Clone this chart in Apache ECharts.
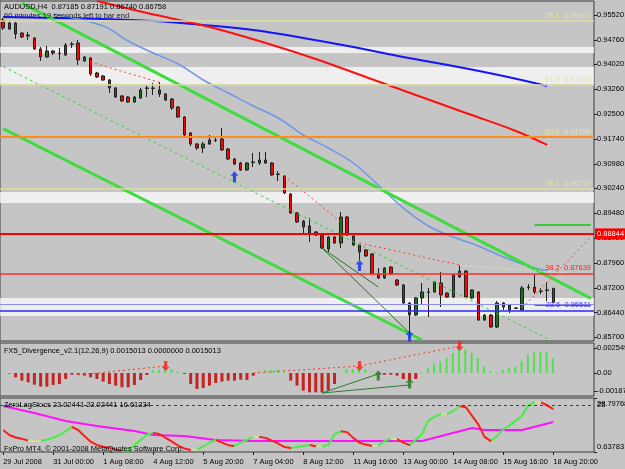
<!DOCTYPE html>
<html>
<head>
<meta charset="utf-8">
<script src="https://cdn.jsdelivr.net/npm/echarts@6/dist/echarts.min.js"></script>
<style>
  html, body { margin: 0; padding: 0; background: #c5c5c5; }
  #chart { width: 625px; height: 469px; }
</style>
</head>
<body>
<div id="chart"></div>
<script>
// ---- data ----
const barCount = 95; // 89 bars + right shift
const tickLabels = ['29 Jul 2008', '31 Jul 00:00', '1 Aug 08:00', '4 Aug 12:00', '5 Aug 20:00', '7 Aug 04:00',
  '8 Aug 12:00', '11 Aug 16:00', '13 Aug 00:00', '14 Aug 08:00', '15 Aug 16:00', '18 Aug 20:00'];
const priceTicks = [0.9552, 0.9476, 0.9402, 0.9326, 0.9250, 0.9174, 0.9098, 0.9024, 0.8948, 0.8872,
  0.8796, 0.8720, 0.8644, 0.8570];
const macdTicks = [0.002549, 0, -0.00187];
const stochTicks = [28.79768, 0.63783];
const stochLevel = 25;

// [open, close, low, high]
const candles = [
  [0.95368, 0.95124, 0.95063, 0.95428], [0.95093, 0.95276, 0.95063, 0.95337], [0.95276, 0.94941, 0.94788, 0.95307],
  [0.94971, 0.94849, 0.94819, 0.95002], [0.94910, 0.94880, 0.94758, 0.95002], [0.94819, 0.94483, 0.94453, 0.94849],
  [0.94483, 0.94239, 0.94117, 0.94544], [0.94239, 0.94422, 0.94209, 0.94575], [0.94422, 0.94361, 0.94300, 0.94453],
  [0.94361, 0.94345, 0.94148, 0.94514], [0.94300, 0.94605, 0.94270, 0.94666], [0.94636, 0.94625, 0.94514, 0.94697],
  [0.94666, 0.94148, 0.93995, 0.94758], [0.94117, 0.94239, 0.94087, 0.94270], [0.94209, 0.93721, 0.93660, 0.94239],
  [0.93751, 0.93629, 0.93599, 0.93782], [0.93660, 0.93538, 0.93507, 0.93690], [0.93538, 0.93294, 0.93141, 0.93568],
  [0.93294, 0.93019, 0.92989, 0.93324], [0.93050, 0.92897, 0.92867, 0.93080], [0.93019, 0.92867, 0.92836, 0.93050],
  [0.92867, 0.93019, 0.92836, 0.93050], [0.92989, 0.93233, 0.92958, 0.93294], [0.93294, 0.93280, 0.93019, 0.93385],
  [0.93294, 0.93280, 0.93080, 0.93446], [0.93233, 0.93111, 0.93019, 0.93477], [0.93111, 0.92928, 0.92897, 0.93141],
  [0.92958, 0.92684, 0.92623, 0.92989], [0.92714, 0.92409, 0.92379, 0.92745], [0.92409, 0.91860, 0.91830, 0.92440],
  [0.91921, 0.91586, 0.91525, 0.91952], [0.91586, 0.91464, 0.91403, 0.91616], [0.91464, 0.91586, 0.91311, 0.91647],
  [0.91586, 0.91708, 0.91555, 0.91860], [0.91708, 0.91695, 0.91647, 0.91769], [0.91738, 0.91403, 0.91372, 0.92074],
  [0.91433, 0.91128, 0.91098, 0.91464], [0.91128, 0.90976, 0.90945, 0.91159], [0.91006, 0.90793, 0.90762, 0.91037],
  [0.90793, 0.91006, 0.90762, 0.91037], [0.91037, 0.91020, 0.90884, 0.91311], [0.91006, 0.91098, 0.90945, 0.91342],
  [0.91098, 0.91006, 0.90976, 0.91342], [0.91006, 0.90640, 0.90610, 0.91037], [0.90671, 0.90655, 0.90457, 0.90762],
  [0.90610, 0.90091, 0.90061, 0.90640], [0.90061, 0.89481, 0.89451, 0.90091], [0.89481, 0.89207, 0.89176, 0.89512],
  [0.89237, 0.89054, 0.88871, 0.89268], [0.89085, 0.88871, 0.88597, 0.89329], [0.88902, 0.88810, 0.88780, 0.88932],
  [0.88810, 0.88414, 0.88383, 0.88841], [0.88383, 0.88749, 0.88292, 0.88780], [0.88749, 0.88566, 0.88536, 0.88780],
  [0.88566, 0.89359, 0.88414, 0.89512], [0.89359, 0.88810, 0.88780, 0.89390], [0.88780, 0.88505, 0.88475, 0.88810],
  [0.88505, 0.88292, 0.88048, 0.88536], [0.88353, 0.88170, 0.88140, 0.88383], [0.88231, 0.87621, 0.87590, 0.88261],
  [0.87621, 0.87499, 0.87468, 0.87804], [0.87499, 0.87804, 0.87468, 0.87834], [0.87834, 0.87621, 0.87590, 0.87865],
  [0.87438, 0.87285, 0.87255, 0.87468], [0.87285, 0.86736, 0.86706, 0.87316], [0.86736, 0.86370, 0.85699, 0.86766],
  [0.86370, 0.86889, 0.86340, 0.86919], [0.86889, 0.87072, 0.86675, 0.87346], [0.87072, 0.87060, 0.86309, 0.87194],
  [0.87072, 0.87377, 0.87041, 0.87407], [0.87346, 0.86980, 0.86614, 0.87682], [0.87041, 0.86919, 0.86889, 0.87072],
  [0.86919, 0.87590, 0.86889, 0.87621], [0.87529, 0.87712, 0.87499, 0.87895], [0.87712, 0.86919, 0.86889, 0.87743],
  [0.86889, 0.87133, 0.86858, 0.87163], [0.87072, 0.86218, 0.86187, 0.87102], [0.86218, 0.86370, 0.86187, 0.86401],
  [0.86370, 0.86004, 0.85973, 0.86401], [0.86004, 0.86736, 0.85973, 0.86797], [0.86736, 0.86614, 0.86523, 0.86766],
  [0.86675, 0.86523, 0.86431, 0.86706], [0.86584, 0.86570, 0.86553, 0.86614], [0.86523, 0.87194, 0.86492, 0.87255],
  [0.87224, 0.87210, 0.87133, 0.87316], [0.87224, 0.87072, 0.87011, 0.87590], [0.87102, 0.87090, 0.87011, 0.87194],
  [0.87133, 0.87120, 0.86797, 0.87377], [0.87185, 0.86758, 0.86740, 0.87191]
];

// moving averages, [bar, price]
const maBlue = [[0, 0.95459], [16, 0.95398], [24, 0.95337], [32, 0.95215], [40, 0.95063], [48, 0.94819],
  [56, 0.94544], [64, 0.94239], [72, 0.93965], [80, 0.93660], [87, 0.93355]];
const maRed = [[15, 0.95947], [23, 0.95581], [33, 0.95154], [42, 0.94666], [50, 0.94178], [58, 0.93629],
  [66, 0.93080], [74, 0.92532], [82, 0.91983], [87, 0.91556]];
const maLightBlue = [[8, 0.95551], [16, 0.95185], [20, 0.94727], [24, 0.94361], [28, 0.94026], [32, 0.93538],
  [36, 0.93141], [40, 0.92745], [44, 0.92379], [48, 0.91860], [52, 0.91464], [56, 0.91006], [60, 0.90335],
  [64, 0.89634], [68, 0.89085], [72, 0.88749], [76, 0.88475], [80, 0.88140], [84, 0.87865], [87, 0.87712]];

// trend lines, [bar, price]
const trendUpper = [[3, 0.95880], [94, 0.86877]];
const trendLower = [[0, 0.92055], [67, 0.85608]];
const trendMid = [[0, 0.93946], [87, 0.85654]];
const trendPale = [[73, 0.87880], [94, 0.87602]];
const redDashes = [
  [[14, 0.94087], [25, 0.93462]],
  [[45, 0.90610], [54, 0.89207]],
  [[57, 0.88566], [73, 0.87895]],
  [[83, 0.86584], [94, 0.88749]]
];
const divLines = [
  [[51, 0.88414], [60, 0.87224]],
  [[51, 0.88414], [65, 0.85821]]
];
const blueArrows = [[37, 0.90587], [57, 0.87880], [65, 0.85730]];

// horizontal objects
const fiboUpperPct = ['76.4', '61.8', '50.0', '38.2'];
const fiboUpperPrice = [0.95342, 0.93383, 0.91799, 0.90215];
const fiboLowerPct = ['38.2', '23.6'];
const fiboLowerPrice = [0.87639, 0.86511];
const resistance = 0.88844;
const paleBlueLevel = 0.86706;
const bands = [[0.94361, 0.94544], [0.93416, 0.93934], [0.89786, 0.90121], [0.86340, 0.86889]];
const greenShort = [[85, 0.89115], [94, 0.89115]];
const redShort = [[85, 0.86675], [94, 0.86675]];
const lastClose = 0.86758;

// FX5 divergence histogram
const macdHist = [
  0.00005, -0.00005, -0.00044, -0.00078, -0.00095, -0.00119, -0.00139, -0.00139, -0.00122, -0.00112,
  -0.00061, -0.00017, -0.00017, -0.00027, -0.00044, -0.00061, -0.00088, -0.00112, -0.00129, -0.00146,
  -0.00146, -0.00122, -0.00071, -0.00020, 0.00027, 0.00034, 0.00041, 0.00041, 0.00017, -0.00010,
  -0.00112, -0.00163, -0.00153, -0.00129, -0.00102, -0.00088, -0.00078, -0.00078, -0.00068, -0.00071,
  -0.00027, 0.00005, 0.00034, 0.00034, 0.00034, 0.00017, -0.00078, -0.00129, -0.00180, -0.00197,
  -0.00197, -0.00197, -0.00180, -0.00112, 0.00005, 0.00041, 0.00041, 0.00051, 0.00041, 0.00005,
  -0.00005, -0.00017, -0.00017, -0.00027, -0.00061, -0.00078, -0.00061, 0.00005, 0.00051, 0.00095,
  0.00119, 0.00153, 0.00204, 0.00255, 0.00238, 0.00204, 0.00153, 0.00068, 0.00017, 0.00007,
  0.00034, 0.00051, 0.00068, 0.00119, 0.00187, 0.00221, 0.00221, 0.00221, 0.00150
];
const macdRedDashes = [
  [[12, -0.00020], [26, 0.00071]],
  [[40, 0.0], [57, 0.00071]],
  [[57, 0.00071], [73, 0.00275]]
];
const macdGreenLines = [
  [[51, -0.00204], [60, -0.00010]],
  [[51, -0.00204], [65, -0.00122]]
];
const macdDownArrows = [[26, 0.00071], [57, 0.00071], [73, 0.00275]];
const macdUpArrows = [[60, -0.00025], [65, -0.00107]];

// ZeroLagStocs
const stochMain = [
  12.1, 9.5, 8.2, 7.5, 6.6, 6.4, 6.4, 7.0, 8.0, 9.5,
  11.5, 13.7, 12.1, 9.0, 6.0, 4.3, 3.4, 2.8, 2.0, 1.2,
  1.6, 4.0, 7.0, 9.6, 10.6, 10.0, 8.0, 6.0, 4.0, 2.5,
  1.7, 2.0, 3.5, 5.5, 6.9, 5.5, 4.2, 3.8, 5.5, 7.0,
  8.5, 8.5, 8.0, 6.6, 5.0, 3.2, 2.7, 3.2, 3.8, 4.3,
  3.6, 3.5, 4.3, 10.0, 11.4, 11.0, 8.0, 5.5, 4.5, 3.8,
  4.0, 6.3, 7.6, 7.3, 5.5, 4.2, 7.0, 10.0, 17.0, 19.0,
  20.5, 20.5, 22.0, 24.5, 24.0, 19.5, 15.0, 8.5, 6.3, 9.0,
  12.5, 14.5, 17.0, 19.5, 25.0, 26.7, 26.5, 25.0, 23.0
];
const stochSignal = [[0, 24.6], [5, 21.0], [10, 16.8], [15, 14.2], [21, 11.6], [24, 9.5], [29, 9.0], [34, 6.9],
  [40, 6.4], [50, 6.4], [67, 6.4], [75, 13.2], [77, 12.1], [83, 12.1], [88, 16.3]];

// ---- chart ----
const FONT = '"Liberation Sans", Arial, sans-serif';
const FS = 7.5;
const cats = Array.from({length: barCount}, (_, i) => i);
const upArrow = 'path://M5,0 L10,5 L7,5 L7,12 L3,12 L3,5 L0,5 Z';
const downArrow = 'path://M3,0 L7,0 L7,7 L10,7 L5,12 L0,7 L3,7 Z';

function hiddenX(gi) {
  return {type: 'category', gridIndex: gi, data: cats, boundaryGap: true,
    axisLine: {show: false}, axisTick: {show: false}, axisLabel: {show: false}, splitLine: {show: false}};
}
function rightY(gi, min, max, ticks, fmt) {
  return {
    type: 'value', gridIndex: gi, position: 'right', min: min, max: max,
    splitLine: {show: false}, axisLine: {show: false},
    axisTick: {show: true, length: 3, customValues: ticks, lineStyle: {color: '#202020'}},
    axisLabel: {customValues: ticks, formatter: fmt, color: '#000', fontSize: FS, fontFamily: FONT, margin: 3,
      showMinLabel: true, showMaxLabel: true, hideOverlap: false}
  };
}
function seg(data, color, width, type, xi, yi) {
  return {type: 'line', data: data, xAxisIndex: xi || 0, yAxisIndex: yi || 0, symbol: 'none', silent: true,
    lineStyle: {color: color, width: width, type: type || 'solid'}, z: 4};
}

const fiboLabel = (txt, color) => ({show: true, position: 'insideEndTop', formatter: txt, color: color,
  fontSize: FS, fontFamily: FONT, distance: [3, 1]});

const levelLines = [];
fiboUpperPrice.forEach((p, i) => {
  const orange = fiboUpperPct[i] === '50.0';
  levelLines.push({yAxis: p,
    lineStyle: {color: orange ? '#ff8a1e' : '#dcdc9c', width: orange ? 2 : 1.5, type: 'solid'},
    label: fiboLabel(fiboUpperPct[i] + '  ' + p.toFixed(5), '#e4e49a')});
});
levelLines.push({yAxis: fiboLowerPrice[0], lineStyle: {color: '#ff2a2a', width: 1.5, type: 'solid'},
  label: fiboLabel(fiboLowerPct[0] + '  ' + fiboLowerPrice[0].toFixed(5), '#ff2020')});
levelLines.push({yAxis: fiboLowerPrice[1], lineStyle: {color: '#2a2aff', width: 1.5, type: 'solid'},
  label: fiboLabel(fiboLowerPct[1] + '  ' + fiboLowerPrice[1].toFixed(5), '#3a3aff')});
levelLines.push({yAxis: paleBlueLevel, lineStyle: {color: '#8f8fe8', width: 1, type: 'solid'}, label: {show: false}});
levelLines.push({yAxis: resistance, lineStyle: {color: '#ff0000', width: 2, type: 'solid'},
  label: {show: true, position: 'end', formatter: resistance.toFixed(5), color: '#fff', backgroundColor: '#ff0000',
    fontSize: FS, fontFamily: FONT, padding: [2, 2, 1, 2], distance: 1}});
levelLines.push({yAxis: lastClose, lineStyle: {opacity: 0},
  label: {show: true, position: 'end', formatter: lastClose.toFixed(5), color: '#e8e8e8', backgroundColor: '#202020',
    fontSize: FS, fontFamily: FONT, padding: [2, 2, 1, 2], distance: 1}});

const series = [];
series.push({type: 'line', name: 'objects', data: [], xAxisIndex: 0, yAxisIndex: 0, z: 1, silent: true,
  markArea: {silent: true, itemStyle: {color: 'rgba(255,255,255,0.72)'},
    data: bands.map(b => [{yAxis: b[0]}, {yAxis: b[1]}])},
  markLine: {silent: true, precision: 6, symbol: ['none', 'none'], animation: false, data: levelLines}
});
series.push({type: 'candlestick', data: candles, xAxisIndex: 0, yAxisIndex: 0, barWidth: 3, z: 3,
  itemStyle: {color: '#1f6f1f', color0: '#ff0000', borderColor: '#202020', borderColor0: '#202020', borderWidth: 1}});
series.push(Object.assign(seg(maBlue, '#1414ff', 2), {smooth: 0.4}));
series.push(Object.assign(seg(maRed, '#ff1010', 2), {smooth: 0.4}));
series.push(Object.assign(seg(maLightBlue, '#6c98e6', 1.5), {smooth: 0.4}));
series.push(seg(trendUpper, '#3fdc3f', 3));
series.push(seg(trendLower, '#3fdc3f', 3));
series.push(seg(trendMid, '#3cd03c', 1, [3, 3]));
series.push(seg(trendPale, '#d8e8cc', 1, [2, 3]));
redDashes.forEach(d => series.push(seg(d, '#ff3a3a', 1, [2, 3])));
divLines.forEach(d => series.push(seg(d, '#2c6e2c', 1)));
series.push(seg(greenShort, '#3cc83c', 2));
series.push(seg(redShort, '#ff2020', 2));
series.push({type: 'scatter', data: blueArrows, xAxisIndex: 0, yAxisIndex: 0, symbol: upArrow, symbolSize: [8, 11],
  itemStyle: {color: '#1030e8'}, z: 6, silent: true});

// MACD panel: positive bars thin light green, negative bars red
series.push({type: 'bar', data: macdHist.map(v => v >= 0 ? v : null), xAxisIndex: 1, yAxisIndex: 1,
  barWidth: 2, barGap: '-100%', silent: true, itemStyle: {color: '#52e052'}});
series.push({type: 'bar', data: macdHist.map(v => v < 0 ? v : null), xAxisIndex: 1, yAxisIndex: 1,
  barWidth: 3, barGap: '-100%', silent: true, itemStyle: {color: '#c42424'}});
macdRedDashes.forEach(d => series.push(seg(d, '#ff3030', 1, [2, 3], 1, 1)));
macdGreenLines.forEach(d => series.push(seg(d, '#2e7d2e', 1, 'solid', 1, 1)));
series.push({type: 'scatter', data: macdDownArrows, xAxisIndex: 1, yAxisIndex: 1, symbol: downArrow,
  symbolSize: [8, 10], itemStyle: {color: '#ff1a1a'}, z: 6, silent: true});
series.push({type: 'scatter', data: macdUpArrows, xAxisIndex: 1, yAxisIndex: 1, symbol: upArrow,
  symbolSize: [8, 10], itemStyle: {color: '#1e7a1e'}, z: 6, silent: true});

// Stoch panel
series.push({type: 'line', data: stochSignal, xAxisIndex: 2, yAxisIndex: 2, symbol: 'none', silent: true,
  lineStyle: {color: '#ff10ff', width: 2}, z: 3,
  markLine: {silent: true, precision: 6, symbol: ['none', 'none'], label: {show: false},
    lineStyle: {color: '#404040', type: [3, 3], width: 1}, data: [{yAxis: stochLevel}]}});
const stochIndex = series.length;
series.push({type: 'line', data: stochMain, xAxisIndex: 2, yAxisIndex: 2, symbol: 'none', silent: true,
  lineStyle: {width: 2}, z: 4});

const stochPieces = [];
for (let i = 0; i < stochMain.length - 1; i++) {
  const d = stochMain[i + 1] - stochMain[i];
  stochPieces.push({gte: i, lt: i + 1, color: d < -0.4 ? '#ff1c1c' : (d > 0.4 ? '#44ee44' : '#d4dc9e')});
}
stochPieces.push({gte: stochMain.length - 1, lte: barCount, color: '#ff1c1c'});

const gridBase = {left: 0, width: 594, show: true, borderColor: '#3a3a3a', borderWidth: 1, outerBoundsMode: 'none'};
const stochAxis = rightY(2, stochTicks[1], stochTicks[0], stochTicks, v => {
  if (v === stochTicks[0]) return '{t|' + v.toFixed(5) + '}';
  return '{b|' + v.toFixed(5) + '}';
});
stochAxis.axisLabel.rich = {t: {padding: [12, 0, 0, 0], fontSize: FS, fontFamily: FONT, color: '#000'},
  b: {padding: [0, 0, 10, 0], fontSize: FS, fontFamily: FONT, color: '#000'}};
const stochLevelAxis = rightY(2, stochTicks[1], stochTicks[0], [stochLevel], v => String(v));
stochLevelAxis.axisTick.show = false;

const option = {
  animation: false,
  backgroundColor: '#c5c5c5',
  grid: [
    Object.assign({top: 1, height: 340}, gridBase),
    Object.assign({top: 343, height: 53}, gridBase),
    Object.assign({top: 398, height: 54}, gridBase)
  ],
  xAxis: [hiddenX(0), hiddenX(1), {
    type: 'category', gridIndex: 2, data: cats, boundaryGap: true,
    axisLine: {show: false},
    axisTick: {show: true, length: 3, alignWithLabel: true, lineStyle: {color: '#202020'},
      interval: (i) => i % 8 === 0 && i / 8 < tickLabels.length},
    axisLabel: {show: true, interval: (i) => i % 8 === 0 && i / 8 < tickLabels.length,
      formatter: (v, i) => tickLabels[i / 8] || '', align: 'left', color: '#000',
      fontSize: FS, fontFamily: FONT, margin: 6},
    splitLine: {show: false}
  }],
  yAxis: [
    rightY(0, 0.85577, 0.95947, priceTicks, v => v.toFixed(5)),
    rightY(1, -0.002346, 0.00306, macdTicks, v => v === 0 ? '0.00' : (v > 0 ? v.toFixed(6) : v.toFixed(5))),
    stochAxis,
    stochLevelAxis
  ],
  visualMap: [{type: 'piecewise', show: false, seriesIndex: stochIndex, dimension: 0, pieces: stochPieces}],
  series: series,
  graphic: [
    {type: 'text', left: 4, top: 3, z: 10, style: {text: 'AUDUSD,H4  0.87185 0.87191 0.86740 0.86758',
      fill: '#000', font: FS + 'px ' + FONT}},
    {type: 'text', left: 4, top: 12, z: 10, style: {text: '60 minutes 19 seconds left to bar end',
      fill: '#1a1a1a', font: FS + 'px ' + FONT}},
    {type: 'text', left: 4, top: 347, z: 10, style: {text: 'FX5_Divergence_v2.1(12,26,9) 0.0015013 0.0000000 0.0015013',
      fill: '#000', font: FS + 'px ' + FONT}},
    {type: 'text', left: 4, top: 401, z: 10, style: {text: 'ZeroLagStocs 23.02441 23.02441 16.61334',
      fill: '#000', font: FS + 'px ' + FONT}},
    {type: 'text', left: 4, top: 445, z: 10, style: {text: 'FxPro MT4, \u00a9 2001-2008 MetaQuotes Software Corp.',
      fill: '#000', font: FS + 'px ' + FONT}}
  ]
};

const chart = echarts.init(document.getElementById('chart'), null, {renderer: 'canvas'});
chart.setOption(option);
</script>
</body>
</html>
